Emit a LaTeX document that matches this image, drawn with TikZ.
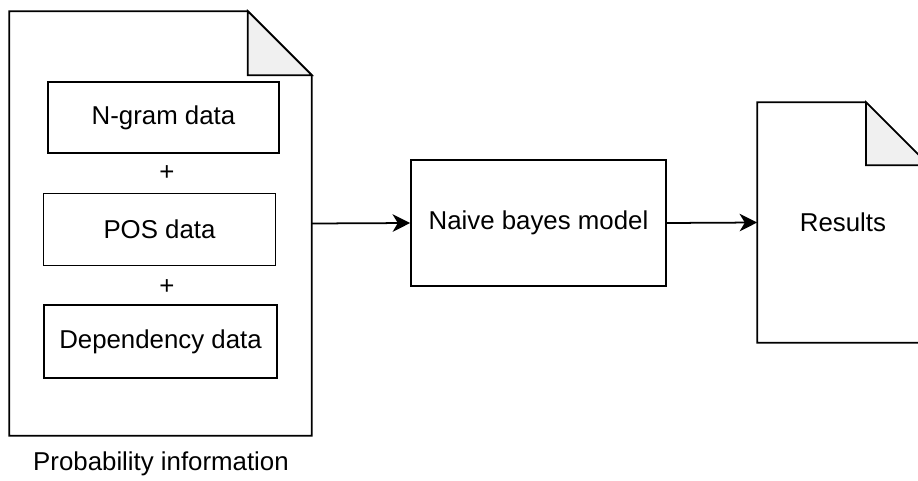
\documentclass[tikz,border=0pt]{standalone}
\usepackage{fontspec}
\setmainfont{Liberation Sans}
\usetikzlibrary{arrows.meta}

\begin{document}
\begin{tikzpicture}[x=0.02cm,y=-0.02cm,
  font=\fontsize{14.7}{17}\selectfont,
  line width=1pt,
  databox/.style={draw,inner sep=0pt,minimum height=1.43cm},
  docarea/.style={inner sep=0pt},
  foldfill/.style={fill=black!6},
  flow/.style={-{Stealth[length=10pt,width=10pt,inset=3pt]}}]
\useasboundingbox (0,0) rectangle (918,480);
\node[docarea,minimum width=6.02cm,minimum height=8.46cm] (probdoc) at (160.5,223.5) {};
\node[docarea,minimum width=3.4cm,minimum height=4.78cm] (resdoc) at (843,222.5) {Results};
\draw (probdoc.north west) -- ([xshift=-1.28cm]probdoc.north east) -- ([yshift=-1.28cm]probdoc.north east) -- (probdoc.south east) -- (probdoc.south west) -- cycle;
\filldraw[foldfill] ([xshift=-1.28cm]probdoc.north east) -- ([yshift=-1.28cm]probdoc.north east) -- ([xshift=-1.28cm,yshift=-1.28cm]probdoc.north east) -- cycle;
\draw (resdoc.north west) -- ([xshift=-1.26cm]resdoc.north east) -- ([yshift=-1.26cm]resdoc.north east) -- (resdoc.south east) -- (resdoc.south west) -- cycle;
\filldraw[foldfill] ([xshift=-1.26cm]resdoc.north east) -- ([yshift=-1.26cm]resdoc.north east) -- ([xshift=-1.26cm,yshift=-1.26cm]resdoc.north east) -- cycle;
\node[databox,minimum width=4.62cm] (ngram) at (163.5,117.5) {N-gram data};
\node (plusa) at (167,173) {+};
\node[databox,minimum width=4.64cm,minimum height=1.44cm] (pos) at (159.5,229.5) {POS data};
\node (plusb) at (167,287) {+};
\node[databox,minimum width=4.66cm,minimum height=1.46cm] (dep) at (160.5,341.5) {Dependency data};
\node (probcap) at (161,464) {Probability information};
\node[draw,inner sep=0pt,minimum width=5.1cm,minimum height=2.52cm] (naive) at (538.5,223) {Naive bayes model};
\draw[flow] (probdoc.east) -- (naive.west);
\draw[flow] (naive.east) -- (resdoc.west);
\end{tikzpicture}
\end{document}
